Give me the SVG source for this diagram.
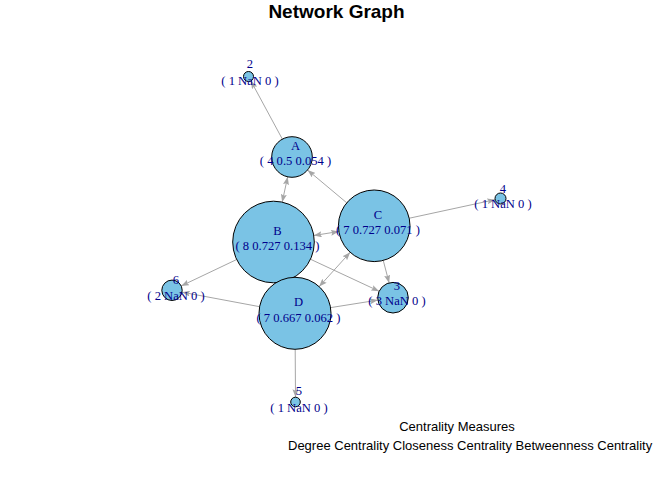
<svg xmlns="http://www.w3.org/2000/svg" width="672" height="480" viewBox="0 0 672 480">
<style>
.edge{stroke:#A6A6A6;stroke-width:1;fill:none}
.node{fill:#7AC3E5;stroke:#000;stroke-width:1}
.lbl{font-family:"Liberation Serif","Times New Roman",serif;font-size:12.6px;fill:#00008B;text-anchor:middle}
.title{font-family:"Liberation Sans",Arial,sans-serif;font-size:19px;font-weight:bold;fill:#000;text-anchor:middle}
.leg{font-family:"Liberation Sans",Arial,sans-serif;font-size:13px;fill:#000}
</style>
<defs>
<marker id="arr" viewBox="0 0 8 6" refX="8" refY="3" markerWidth="8" markerHeight="6" markerUnits="userSpaceOnUse" orient="auto-start-reverse">
<path d="M0,0 L8,3 L0,6 L1.5,3 z" fill="#A6A6A6"/>
</marker>
</defs>
<rect width="672" height="480" fill="#fff"/>
<text class="title" x="336.5" y="18">Network Graph</text>
<g id="edges">
<line class="edge" x1="282.35" y1="139.14" x2="250.88" y2="80.9" marker-end="url(#arr)"/>
<line class="edge" x1="346.75" y1="202.82" x2="307.57" y2="170.03" marker-end="url(#arr)"/>
<line class="edge" x1="287.68" y1="176.84" x2="282.18" y2="202.13" marker-start="url(#arr)" marker-end="url(#arr)"/>
<line class="edge" x1="313.78" y1="235.52" x2="338.85" y2="231.49" marker-start="url(#arr)" marker-end="url(#arr)"/>
<line class="edge" x1="409.19" y1="218.24" x2="495.12" y2="199.66" marker-end="url(#arr)"/>
<line class="edge" x1="383.26" y1="260.44" x2="389.13" y2="282.9" marker-end="url(#arr)"/>
<line class="edge" x1="310.48" y1="259.24" x2="379.13" y2="291.24" marker-end="url(#arr)"/>
<line class="edge" x1="236.66" y1="259.53" x2="181.21" y2="285.92" marker-end="url(#arr)"/>
<line class="edge" x1="259.61" y1="306.68" x2="182.03" y2="292.17" marker-end="url(#arr)"/>
<line class="edge" x1="319.16" y1="286.61" x2="350.17" y2="252.34" marker-start="url(#arr)" marker-end="url(#arr)"/>
<line class="edge" x1="330.55" y1="307.64" x2="377.89" y2="300.11" marker-end="url(#arr)"/>
<line class="edge" x1="295.2" y1="349.3" x2="295.5" y2="397.2" marker-end="url(#arr)"/>
</g>
<g id="node-A"><circle class="node" cx="292" cy="157" r="20.3"/><text class="lbl" x="295.5" y="150">A</text><text class="lbl" x="295.5" y="164.5">( 4 0.5 0.054 )</text></g>
<g id="node-B"><circle class="node" cx="273.5" cy="242" r="40.8"/><text class="lbl" x="277.5" y="235">B</text><text class="lbl" x="277.5" y="250">( 8 0.727 0.134 )</text></g>
<g id="node-C"><circle class="node" cx="374.2" cy="225.8" r="35.8"/><text class="lbl" x="378" y="218.5">C</text><text class="lbl" x="378" y="234">( 7 0.727 0.071 )</text></g>
<g id="node-D"><circle class="node" cx="295" cy="313.3" r="36"/><text class="lbl" x="298.5" y="306">D</text><text class="lbl" x="298.5" y="321.5">( 7 0.667 0.062 )</text></g>
<g id="node-2"><circle class="node" cx="248.5" cy="76.5" r="5"/><text class="lbl" x="250" y="68">2</text><text class="lbl" x="250" y="84.5">( 1 NaN 0 )</text></g>
<g id="node-3"><circle class="node" cx="393" cy="297.7" r="15.3"/><text class="lbl" x="397" y="290">3</text><text class="lbl" x="397" y="304.5">( 3 NaN 0 )</text></g>
<g id="node-4"><circle class="node" cx="500.5" cy="198.5" r="5.5"/><text class="lbl" x="503" y="192.5">4</text><text class="lbl" x="503" y="208">( 1 NaN 0 )</text></g>
<g id="node-5"><circle class="node" cx="295.5" cy="402" r="4.8"/><text class="lbl" x="299" y="395">5</text><text class="lbl" x="299" y="411.5">( 1 NaN 0 )</text></g>
<g id="node-6"><circle class="node" cx="172" cy="290.3" r="10.2"/><text class="lbl" x="176" y="284">6</text><text class="lbl" x="176" y="299.5">( 2 NaN 0 )</text></g>
<g id="legend">
<text class="leg" x="457" y="431" text-anchor="middle">Centrality Measures</text>
<text class="leg" x="288" y="450">Degree Centrality Closeness Centrality Betweenness Centrality</text>
</g>
</svg>
